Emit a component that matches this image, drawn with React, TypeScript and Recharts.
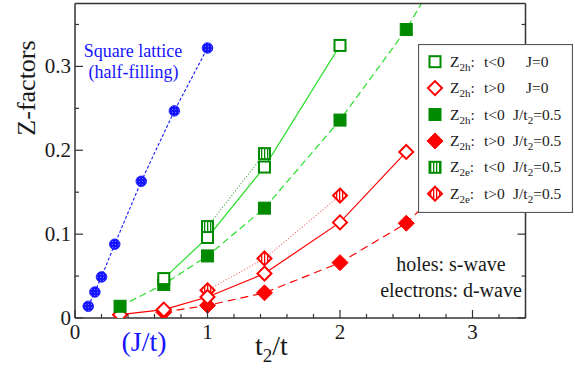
import React from "react";
import { LineChart, Line, XAxis, YAxis, Legend, Customized } from "recharts";

// square lattice, half filling: x is J/t
const latticeJ = [0.1, 0.15, 0.2, 0.3, 0.5, 0.75, 1.0];
const latticeZ = [0.014, 0.031, 0.049, 0.088, 0.163, 0.247, 0.322];

// x is t2/t
const holeNegJ0T2 = [0.67, 1.0, 1.43, 2.0];
const holeNegJ0Z = [0.047, 0.096, 0.18, 0.325];

const holePosJ0T2 = [0.34, 0.67, 1.0, 1.43, 2.0, 2.5];
const holePosJ0Z = [0.004, 0.01, 0.025, 0.053, 0.114, 0.198];

const holeNegJT2 = [0.34, 0.67, 1.0, 1.43, 2.0, 2.5, 3.0];
const holeNegJZ = [0.014, 0.04, 0.074, 0.131, 0.236, 0.344, 0.48];

const holePosJT2 = [0.67, 1.0, 1.43, 2.0, 2.5, 3.0];
const holePosJZ = [0.007, 0.015, 0.03, 0.066, 0.113, 0.19];

const elecNegJT2 = [1.0, 1.43];
const elecNegJZ = [0.109, 0.196];

const elecPosJT2 = [1.0, 1.43, 2.0];
const elecPosJZ = [0.033, 0.071, 0.146];

const xTicks = [0, 0.2, 0.4, 0.6, 0.8, 1, 1.2, 1.4, 1.6, 1.8, 2, 2.2, 2.4, 2.6, 2.8, 3, 3.2, 3.4];
const yTicks = [0, 0.05, 0.1, 0.15, 0.2, 0.25, 0.3, 0.35];

const legendRows = [
  { sub: "2h", cond: "t<0", param: "J=0", marker: "openSquare" },
  { sub: "2h", cond: "t>0", param: "J=0", marker: "openDiamond" },
  { sub: "2h", cond: "t<0", param: "J/t2=0.5", marker: "filledSquare" },
  { sub: "2h", cond: "t>0", param: "J/t2=0.5", marker: "filledDiamond" },
  { sub: "2e", cond: "t<0", param: "J/t2=0.5", marker: "stripedSquare" },
  { sub: "2e", cond: "t>0", param: "J/t2=0.5", marker: "stripedDiamond" },
];

const toPoints = (xs: number[], ys: number[]) => xs.map((x, i) => ({ x, z: ys[i] }));

const GREEN_DARK = "#008a00";
const GREEN_LINE = "#2be02b";
const RED = "#ff0000";
const BLUE = "#1515ff";
const AXIS = "#333";
const TEXT = "#1a1a1a";
const SERIF = '"Liberation Serif", "DejaVu Serif", serif';
const serif = { fontFamily: SERIF };

function Marker({ kind, cx, cy }: { kind: string; cx: number; cy: number }) {
  if (cx == null || cy == null) return null;
  switch (kind) {
    case "openSquare":
      return <rect x={cx - 5.5} y={cy - 5.5} width={11} height={11} fill="#fff" stroke={GREEN_DARK} strokeWidth={2} />;
    case "filledSquare":
      return <rect x={cx - 6} y={cy - 6} width={12} height={12} fill={GREEN_DARK} stroke={GREEN_DARK} strokeWidth={1} />;
    case "stripedSquare":
      return <rect x={cx - 5.5} y={cy - 5.5} width={11} height={11} fill="url(#stripeGreen)" stroke={GREEN_DARK} strokeWidth={2} />;
    case "openDiamond":
      return <polygon points={`${cx},${cy - 7} ${cx + 7},${cy} ${cx},${cy + 7} ${cx - 7},${cy}`} fill="#fff" stroke={RED} strokeWidth={2} />;
    case "filledDiamond":
      return <polygon points={`${cx},${cy - 8} ${cx + 8},${cy} ${cx},${cy + 8} ${cx - 8},${cy}`} fill={RED} stroke={RED} strokeWidth={1} />;
    case "stripedDiamond":
      return <polygon points={`${cx},${cy - 7} ${cx + 7},${cy} ${cx},${cy + 7} ${cx - 7},${cy}`} fill="url(#stripeRed)" stroke={RED} strokeWidth={2} />;
    default:
      return <circle cx={cx} cy={cy} r={5.3} fill="url(#blueDots)" stroke={BLUE} strokeWidth={0.8} />;
  }
}

const dotOf = (kind: string) => (p: any) => <Marker key={`${kind}-${p.index}`} kind={kind} cx={p.cx} cy={p.cy} />;

const isInt = (v: number) => Math.abs(v - Math.round(v)) < 1e-6;
const isTenth = (v: number) => Math.abs(v * 10 - Math.round(v * 10)) < 1e-6;

const BottomTick = (props: any) => {
  const { x, y, payload } = props;
  const v = payload.value;
  const major = isInt(v);
  return (
    <g>
      <line x1={x} x2={x} y1={y} y2={y - (major ? 8 : 4)} stroke={AXIS} strokeWidth={1.2} />
      {major && (
        <text x={x} y={y + 20.5} textAnchor="middle" fontSize={21} style={serif} fill={TEXT}>
          {Math.round(v)}
        </text>
      )}
    </g>
  );
};

const TopTick = (props: any) => {
  const { x, y, payload } = props;
  const major = isInt(payload.value);
  return <line x1={x} x2={x} y1={y} y2={y + (major ? 8 : 4)} stroke={AXIS} strokeWidth={1.2} />;
};

const LeftTick = (props: any) => {
  const { x, y, payload } = props;
  const v = payload.value;
  const major = isTenth(v);
  return (
    <g>
      <line x1={x} x2={x + (major ? 8 : 4)} y1={y} y2={y} stroke={AXIS} strokeWidth={1.2} />
      {major && (
        <text x={x - 4} y={y + 7} textAnchor="end" fontSize={21} style={serif} fill={TEXT}>
          {v === 0 ? "0" : v.toFixed(1)}
        </text>
      )}
    </g>
  );
};

const RightTick = (props: any) => {
  const { x, y, payload } = props;
  const major = isTenth(payload.value);
  return <line x1={x} x2={x - (major ? 8 : 4)} y1={y} y2={y} stroke={AXIS} strokeWidth={1.2} />;
};

function LegendBox() {
  return (
    <svg width={155} height={169} style={{ display: "block" }}>
      <rect x={0.5} y={0.5} width={154} height={168} fill="#fff" stroke="#555" strokeWidth={1.2} />
      {legendRows.map((r, i) => {
        const cy = 17.7 + 26.4 * i;
        const base = cy + 5;
        const withT2 = r.param !== "J=0";
        return (
          <g key={i} style={serif} fontSize={15.5} fill={TEXT}>
            <Marker kind={r.marker} cx={17} cy={cy} />
            <text x={32} y={base}>
              Z<tspan dy={4} fontSize={11}>{r.sub}</tspan>
              <tspan dy={-4}>:</tspan>
            </text>
            <text x={66} y={base}>{r.cond}</text>
            {withT2 ? (
              <text x={95} y={base}>
                J/t<tspan dy={4} fontSize={11}>2</tspan>
                <tspan dy={-4}>=0.5</tspan>
              </text>
            ) : (
              <text x={108} y={base}>{r.param}</text>
            )}
          </g>
        );
      })}
    </svg>
  );
}

function Annotations() {
  return (
    <g style={serif}>
      <text x={133} y={57} textAnchor="middle" fontSize={18} fill={BLUE}>Square lattice</text>
      <text x={133.5} y={78} textAnchor="middle" fontSize={18} fill={BLUE}>(half-filling)</text>
      <text x={451} y={270.5} textAnchor="middle" fontSize={20} fill={TEXT}>holes: s-wave</text>
      <text x={451} y={296.5} textAnchor="middle" fontSize={20} fill={TEXT}>electrons: d-wave</text>
      <text x={144} y={351} textAnchor="middle" fontSize={28} fill={BLUE}>(J/t)</text>
      <text x={255} y={355} fontSize={28} fill={TEXT}>
        t<tspan dy={7} fontSize={19}>2</tspan>
        <tspan dy={-7}>/t</tspan>
      </text>
      <text transform="translate(34.5,88) rotate(-90)" textAnchor="middle" fontSize={26} fill={TEXT}>
        Z-factors
      </text>
    </g>
  );
}

export default function App() {
  const axisLine = { stroke: AXIS, strokeWidth: 1.5 };
  return (
    <div style={{ position: "absolute", left: 0, top: 0, width: 575, height: 374, background: "#fff" }}>
      <LineChart width={575} height={374} margin={{ top: 2.5, right: 48.5, bottom: 55, left: 74 }}>
        <defs>
          <pattern id="stripeGreen" width="3" height="3" patternUnits="userSpaceOnUse">
            <rect width="3" height="3" fill="#fff" />
            <rect width="1.3" height="3" fill={GREEN_DARK} />
          </pattern>
          <pattern id="stripeRed" width="3" height="3" patternUnits="userSpaceOnUse">
            <rect width="3" height="3" fill="#fff" />
            <rect width="1.3" height="3" fill={RED} />
          </pattern>
          <pattern id="blueDots" width="3" height="3" patternUnits="userSpaceOnUse">
            <rect width="3" height="3" fill={BLUE} />
            <rect x="1" y="1" width="1" height="1" fill="#6a6aff" />
          </pattern>
        </defs>
        <XAxis
          dataKey="x"
          type="number"
          domain={[0, 3.4]}
          ticks={xTicks}
          interval={0}
          allowDataOverflow
          height={1}
          tickSize={0}
          tickMargin={0}
          tickLine={false}
          axisLine={axisLine}
          tick={<BottomTick />}
        />
        <XAxis
          xAxisId="top"
          orientation="top"
          type="number"
          domain={[0, 3.4]}
          ticks={xTicks}
          interval={0}
          allowDataOverflow
          height={1}
          tickSize={0}
          tickMargin={0}
          tickLine={false}
          axisLine={axisLine}
          tick={<TopTick />}
        />
        <YAxis
          type="number"
          domain={[0, 0.375]}
          ticks={yTicks}
          interval={0}
          allowDataOverflow
          width={1}
          tickSize={0}
          tickMargin={0}
          tickLine={false}
          axisLine={axisLine}
          tick={<LeftTick />}
        />
        <YAxis
          yAxisId="right"
          orientation="right"
          type="number"
          domain={[0, 0.375]}
          ticks={yTicks}
          interval={0}
          allowDataOverflow
          width={1}
          tickSize={0}
          tickMargin={0}
          tickLine={false}
          axisLine={axisLine}
          tick={<RightTick />}
        />
        <Legend
          layout="horizontal"
          verticalAlign="middle"
          align="center"
          content={() => <LegendBox />}
          wrapperStyle={{ left: 418, top: 44, width: 155, height: 169 }}
        />
        <Line data={toPoints(latticeJ, latticeZ)} dataKey="z" stroke={BLUE} strokeWidth={1.1} strokeDasharray="3 2" dot={dotOf("circle")} isAnimationActive={false} />
        <Line data={toPoints(elecPosJT2, elecPosJZ)} dataKey="z" stroke="#ff6060" strokeWidth={1.1} strokeDasharray="1 2" dot={dotOf("stripedDiamond")} isAnimationActive={false} />
        <Line data={toPoints(holePosJT2, holePosJZ)} dataKey="z" stroke={RED} strokeWidth={1.2} strokeDasharray="8 5" dot={dotOf("filledDiamond")} isAnimationActive={false} />
        <Line data={toPoints(holePosJ0T2, holePosJ0Z)} dataKey="z" stroke={RED} strokeWidth={1.2} dot={dotOf("openDiamond")} isAnimationActive={false} />
        <Line data={toPoints(elecNegJT2, elecNegJZ)} dataKey="z" stroke="#3c9a3c" strokeWidth={1.1} strokeDasharray="1 2" dot={dotOf("stripedSquare")} isAnimationActive={false} />
        <Line data={toPoints(holeNegJT2, holeNegJZ)} dataKey="z" stroke={GREEN_LINE} strokeWidth={1.2} strokeDasharray="7 4" dot={dotOf("filledSquare")} isAnimationActive={false} />
        <Line data={toPoints(holeNegJ0T2, holeNegJ0Z)} dataKey="z" stroke={GREEN_LINE} strokeWidth={1.2} dot={dotOf("openSquare")} isAnimationActive={false} />
        <Customized component={<Annotations />} />
      </LineChart>
    </div>
  );
}
